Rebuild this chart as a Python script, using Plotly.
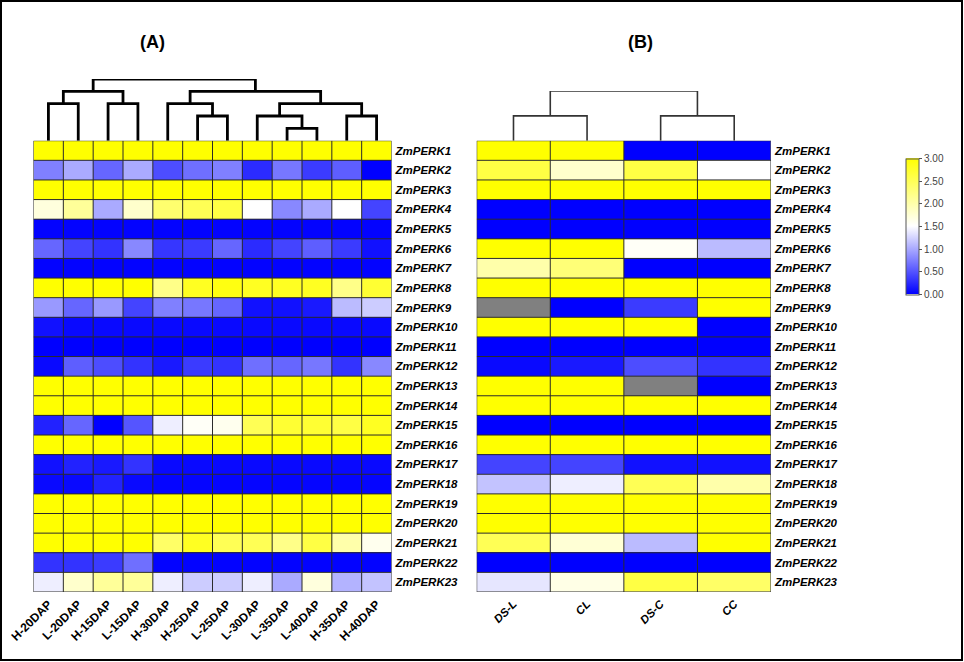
import math
import plotly.graph_objects as go

W, H = 964, 662
NaN = float("nan")

genes = ["ZmPERK1", "ZmPERK2", "ZmPERK3", "ZmPERK4", "ZmPERK5", "ZmPERK6",
         "ZmPERK7", "ZmPERK8", "ZmPERK9", "ZmPERK10", "ZmPERK11", "ZmPERK12",
         "ZmPERK13", "ZmPERK14", "ZmPERK15", "ZmPERK16", "ZmPERK17", "ZmPERK18",
         "ZmPERK19", "ZmPERK20", "ZmPERK21", "ZmPERK22", "ZmPERK23"]

stages_a = ["H-20DAP", "L-20DAP", "H-15DAP", "L-15DAP", "H-30DAP", "H-25DAP",
            "L-25DAP", "L-30DAP", "L-35DAP", "L-40DAP", "H-35DAP", "H-40DAP"]

stages_b = ["DS-L", "CL", "DS-C", "CC"]

values_a = [
    [3.0, 3.0, 3.0, 3.0, 3.0, 3.0, 3.0, 3.0, 3.0, 3.0, 3.0, 3.0],
    [0.75, 1.0, 0.6, 1.0, 0.45, 0.65, 0.75, 0.25, 0.7, 0.35, 0.55, 0.0],
    [3.0, 3.0, 3.0, 3.0, 3.0, 3.0, 3.0, 3.0, 3.0, 3.0, 3.0, 3.0],
    [1.7, 2.1, 1.0, 1.8, 2.35, 2.5, 2.6, 1.5, 0.8, 1.0, 1.5, 0.4],
    [0.02, 0.02, 0.02, 0.02, 0.02, 0.02, 0.02, 0.02, 0.02, 0.02, 0.02, 0.02],
    [0.6, 0.4, 0.3, 0.8, 0.32, 0.35, 0.6, 0.25, 0.4, 0.55, 0.35, 0.1],
    [0.02, 0.02, 0.02, 0.02, 0.02, 0.02, 0.02, 0.02, 0.02, 0.02, 0.02, 0.02],
    [3.0, 3.0, 3.0, 3.0, 2.2, 2.8, 2.9, 2.8, 2.8, 2.8, 2.2, 2.7],
    [0.9, 0.6, 0.9, 0.4, 0.75, 0.7, 0.6, 0.1, 0.1, 0.15, 1.1, 1.2],
    [0.1, 0.05, 0.05, 0.05, 0.05, 0.05, 0.05, 0.05, 0.05, 0.05, 0.05, 0.05],
    [0.0, 0.0, 0.0, 0.0, 0.0, 0.0, 0.0, 0.0, 0.0, 0.0, 0.0, 0.0],
    [0.05, 0.55, 0.45, 0.3, 0.15, 0.35, 0.3, 0.65, 0.6, 0.7, 0.3, 0.8],
    [3.0, 3.0, 3.0, 3.0, 3.0, 3.0, 3.0, 3.0, 3.0, 3.0, 3.0, 3.0],
    [3.0, 3.0, 3.0, 3.0, 3.0, 3.0, 3.0, 3.0, 3.0, 3.0, 3.0, 3.0],
    [0.2, 0.6, 0.0, 0.5, 1.4, 1.55, 1.6, 2.5, 2.7, 2.7, 2.6, 2.8],
    [3.0, 3.0, 3.0, 3.0, 3.0, 3.0, 3.0, 3.0, 3.0, 3.0, 3.0, 3.0],
    [0.1, 0.2, 0.15, 0.3, 0.05, 0.05, 0.05, 0.05, 0.05, 0.05, 0.05, 0.05],
    [0.05, 0.05, 0.2, 0.05, 0.03, 0.03, 0.03, 0.03, 0.03, 0.03, 0.03, 0.03],
    [3.0, 3.0, 3.0, 3.0, 3.0, 3.0, 3.0, 3.0, 3.0, 3.0, 3.0, 3.0],
    [3.0, 3.0, 3.0, 3.0, 3.0, 3.0, 3.0, 3.0, 3.0, 3.0, 3.0, 3.0],
    [3.0, 3.0, 3.0, 3.0, 2.4, 2.8, 2.5, 2.5, 2.2, 2.6, 2.0, 1.6],
    [0.3, 0.3, 0.35, 0.65, 0.02, 0.02, 0.02, 0.02, 0.02, 0.02, 0.02, 0.02],
    [1.4, 1.8, 2.1, 2.1, 1.4, 1.2, 1.2, 1.4, 1.0, 1.7, 1.05, 1.15],
]

values_b = [
    [3.0, 3.0, 0.0, 0.0],
    [2.6, 1.8, 2.6, 1.5],
    [3.0, 3.0, 3.0, 3.0],
    [0.0, 0.0, 0.0, 0.0],
    [0.0, 0.0, 0.0, 0.0],
    [3.0, 3.0, 1.55, 1.1],
    [2.0, 2.3, 0.0, 0.0],
    [3.0, 3.0, 3.0, 3.0],
    [NaN, 0.0, 0.35, 3.0],
    [3.0, 3.0, 3.0, 0.0],
    [0.0, 0.0, 0.0, 0.0],
    [0.05, 0.15, 0.45, 0.3],
    [3.0, 3.0, NaN, 0.0],
    [3.0, 3.0, 3.0, 3.0],
    [0.0, 0.0, 0.0, 0.0],
    [3.0, 3.0, 3.0, 3.0],
    [0.4, 0.4, 0.1, 0.1],
    [1.15, 1.4, 2.5, 2.0],
    [3.0, 3.0, 3.0, 3.0],
    [3.0, 3.0, 3.0, 3.0],
    [2.5, 1.75, 1.1, 3.0],
    [0.0, 0.0, 0.0, 0.0],
    [1.35, 1.65, 2.6, 2.4],
]

# dendrogram linkages: (left node, right node, height); leaves are 0..n-1,
# merged clusters get ids n, n+1, ... in merge order
linkage_a = [
    (8, 9, 1), (5, 6, 2), (7, 12, 2), (10, 11, 2),
    (0, 1, 3), (2, 3, 3), (4, 13, 3), (14, 15, 3),
    (16, 17, 4), (18, 19, 4), (20, 21, 5),
]
linkage_b = [(0, 1, 1), (2, 3, 1), (4, 5, 2)]

colorbar_ticks = [0.0, 0.5, 1.0, 1.5, 2.0, 2.5, 3.0]


def dendro_xy(n, linkage):
    pos = {i: (float(i), 0.0) for i in range(n)}
    xs, ys = [], []
    for k, (a, b, h) in enumerate(linkage):
        xa, ha = pos[a]
        xb, hb = pos[b]
        xs += [xa, xa, xb, xb, None]
        ys += [ha, h, h, hb, None]
        pos[n + k] = ((xa + xb) / 2.0, float(h))
    return xs, ys


def grid_xy(ncol, nrow):
    xs, ys = [], []
    for i in range(ncol + 1):
        xs += [i - 0.5, i - 0.5, None]
        ys += [-0.5, nrow - 0.5, None]
    for j in range(nrow + 1):
        xs += [-0.5, ncol - 0.5, None]
        ys += [j - 0.5, j - 0.5, None]
    return xs, ys


def px(v):
    return v / W


def py(v):
    return 1 - v / H


FONT = "Liberation Sans, Arial, sans-serif"
colorscale = [[0.0, "rgb(0,0,255)"], [0.5, "rgb(255,255,255)"], [1.0, "rgb(255,255,0)"]]

na, nb = len(stages_a), len(stages_b)
ng = len(genes)

fig = go.Figure()

fig.add_trace(go.Heatmap(z=values_a, x=list(range(na)), y=list(range(ng)),
                         coloraxis="coloraxis", xaxis="x", yaxis="y", hoverinfo="skip"))
fig.add_trace(go.Heatmap(z=values_b, x=list(range(nb)), y=list(range(ng)),
                         coloraxis="coloraxis", xaxis="x2", yaxis="y2", hoverinfo="skip"))
mask_b = [[1 if (isinstance(v, float) and math.isnan(v)) else None for v in row] for row in values_b]
fig.add_trace(go.Heatmap(z=mask_b, x=list(range(nb)), y=list(range(ng)),
                         colorscale=[[0, "#808080"], [1, "#808080"]], showscale=False,
                         xaxis="x2", yaxis="y2", hoverinfo="skip"))

gx, gy = grid_xy(na, ng)
fig.add_trace(go.Scatter(x=gx, y=gy, mode="lines", line=dict(color="#2b2b2b", width=1),
                         xaxis="x", yaxis="y", showlegend=False, hoverinfo="skip", cliponaxis=False))
gx, gy = grid_xy(nb, ng)
fig.add_trace(go.Scatter(x=gx, y=gy, mode="lines", line=dict(color="#2b2b2b", width=1),
                         xaxis="x2", yaxis="y2", showlegend=False, hoverinfo="skip", cliponaxis=False))

dx, dy = dendro_xy(na, linkage_a)
fig.add_trace(go.Scatter(x=dx, y=dy, mode="lines", line=dict(color="black", width=2.8),
                         xaxis="x3", yaxis="y3", showlegend=False, cliponaxis=False, hoverinfo="skip"))
dx, dy = dendro_xy(nb, linkage_b)
fig.add_trace(go.Scatter(x=dx, y=dy, mode="lines", line=dict(color="#333333", width=1.6),
                         xaxis="x4", yaxis="y4", showlegend=False, cliponaxis=False, hoverinfo="skip"))

top, bottom = 140.7, 592
xa_dom = [px(33.5), px(391.5)]
xb_dom = [px(476.7), px(771)]
y_dom = [py(bottom), py(top)]

lab_font = dict(family=FONT, size=11.5, color="black")

fig.update_layout(
    width=W, height=H,
    margin=dict(l=0, r=0, t=0, b=0, autoexpand=False),
    paper_bgcolor="white", plot_bgcolor="white",
    showlegend=False,
    coloraxis=dict(
        cmin=0, cmax=3, colorscale=colorscale,
        colorbar=dict(
            x=px(905.5), xanchor="left", y=py(226.5), yanchor="middle",
            len=(294.5 - 158.5) / H, lenmode="fraction", thickness=13,
            xpad=0, ypad=0, outlinewidth=1, outlinecolor="#555555",
            tickvals=colorbar_ticks, tickformat=".2f", ticks="outside", ticklen=3,
            tickcolor="#555555", tickfont=dict(family=FONT, size=10, color="#444444"),
        ),
    ),
    xaxis=dict(domain=xa_dom, anchor="y", range=[-0.5, na - 0.5], automargin=False,
               tickvals=list(range(na)), ticktext=["<b>" + s + "</b>" for s in stages_a],
               tickangle=-45, ticks="", showgrid=False, zeroline=False, showline=False,
               tickfont=dict(family=FONT, size=12, color="black"), ticklabelstandoff=2),
    yaxis=dict(domain=y_dom, anchor="x", range=[ng - 0.5, -0.5], side="right", automargin=False,
               tickvals=list(range(ng)), ticktext=["<b><i>" + g + "</i></b>" for g in genes],
               ticks="", showgrid=False, zeroline=False, showline=False,
               tickfont=lab_font, ticklabelstandoff=3),
    xaxis2=dict(domain=xb_dom, anchor="y2", range=[-0.5, nb - 0.5], automargin=False,
                tickvals=list(range(nb)), ticktext=["<b><i>" + s + "</i></b>" for s in stages_b],
                tickangle=-45, ticks="", showgrid=False, zeroline=False, showline=False,
                tickfont=dict(family=FONT, size=11.5, color="black"), ticklabelstandoff=2),
    yaxis2=dict(domain=y_dom, anchor="x2", range=[ng - 0.5, -0.5], side="right", automargin=False,
                tickvals=list(range(ng)), ticktext=["<b><i>" + g + "</i></b>" for g in genes],
                ticks="", showgrid=False, zeroline=False, showline=False,
                tickfont=lab_font, ticklabelstandoff=3),
    xaxis3=dict(domain=xa_dom, anchor="y3", range=[-0.5, na - 0.5], visible=False, automargin=False),
    yaxis3=dict(domain=[py(top), py(79)], anchor="x3", range=[0, 5], visible=False, automargin=False),
    xaxis4=dict(domain=xb_dom, anchor="y4", range=[-0.5, nb - 0.5], visible=False, automargin=False),
    yaxis4=dict(domain=[py(top), py(91)], anchor="x4", range=[0, 2], visible=False, automargin=False),
    annotations=[
        dict(text="<b>(A)</b>", x=px(152), y=py(42), xref="paper", yref="paper",
             xanchor="center", yanchor="middle",
             showarrow=False, font=dict(family=FONT, size=18, color="black")),
        dict(text="<b>(B)</b>", x=px(640), y=py(42), xref="paper", yref="paper",
             xanchor="center", yanchor="middle",
             showarrow=False, font=dict(family=FONT, size=18, color="black")),
    ],
    shapes=[
        dict(type="rect", xref="paper", yref="paper", x0=px(1), x1=px(962), y0=py(660), y1=py(1),
             line=dict(color="black", width=2), fillcolor="rgba(0,0,0,0)"),
    ],
)

fig.write_html("out.html", config={"displayModeBar": False},
               post_script="document.body.style.margin='0';document.body.style.overflow='hidden';")
